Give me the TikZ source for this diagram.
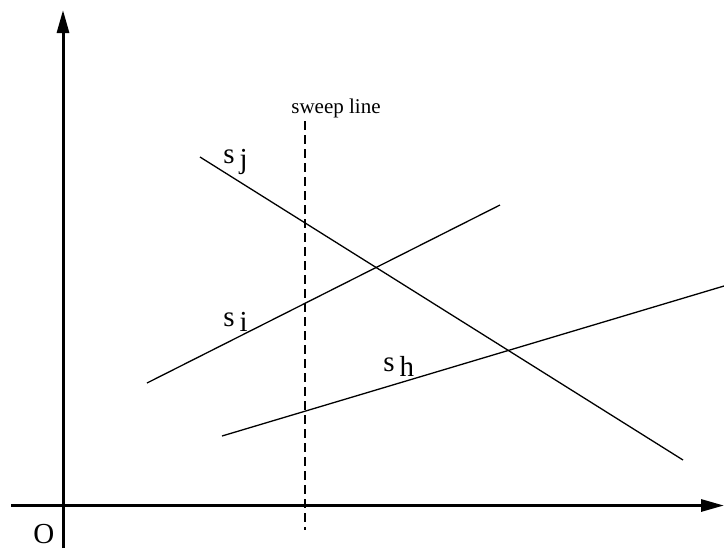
\documentclass[tikz,border=0pt]{standalone}
\usepackage{fontspec}
\setmainfont{Liberation Serif}
\usetikzlibrary{arrows.meta}

\begin{document}
\begin{tikzpicture}[x=0.5pt, y=-0.5pt]
    % 定义样式
    \tikzstyle{axisstyle}=[line width=1.5pt, -{Triangle[width=6pt, length=11.5pt]}]
    \tikzstyle{segstyle}=[line width=0.65pt]
    \tikzstyle{labelstyle}=[anchor=base west, inner sep=0pt, font=\fontsize{14.5}{16}\selectfont]
    \useasboundingbox (0,0) rectangle (724,548);

    % 坐标轴
    \coordinate (ybot) at (63,548);
    \coordinate (ytop) at (63,10);
    \coordinate (xleft) at (11,505.5);
    \coordinate (xright) at (724,505.5);
    \draw[axisstyle] (ybot) -- (ytop);
    \draw[axisstyle] (xleft) -- (xright);
    \node[labelstyle] (O) at (33,543) {O};

    % 扫描线
    \coordinate (sweeptop) at (305,121);
    \coordinate (sweepbot) at (305,530);
    \draw[segstyle, dash pattern=on 4.5pt off 2.5pt] (sweeptop) -- (sweepbot);
    \node[labelstyle, font=\fontsize{10.5}{12}\selectfont] (sweep) at (291,113) {sweep line};

    % 线段 s_j
    \coordinate (sj1) at (200,157);
    \coordinate (sj2) at (683,460);
    \draw[segstyle] (sj1) -- (sj2);
    \node[labelstyle] (sj) at (223,163) {s\,\raisebox{-2.5pt}{j}};

    % 线段 s_i
    \coordinate (si1) at (147,383);
    \coordinate (si2) at (500,205);
    \draw[segstyle] (si1) -- (si2);
    \node[labelstyle] (si) at (223,326) {s\,\raisebox{-2.5pt}{i}};

    % 线段 s_h
    \coordinate (sh1) at (222,436);
    \coordinate (sh2) at (724,286);
    \draw[segstyle] (sh1) -- (sh2);
    \node[labelstyle] (sh) at (383,371) {s\,\raisebox{-2.5pt}{h}};
\end{tikzpicture}
\end{document}
